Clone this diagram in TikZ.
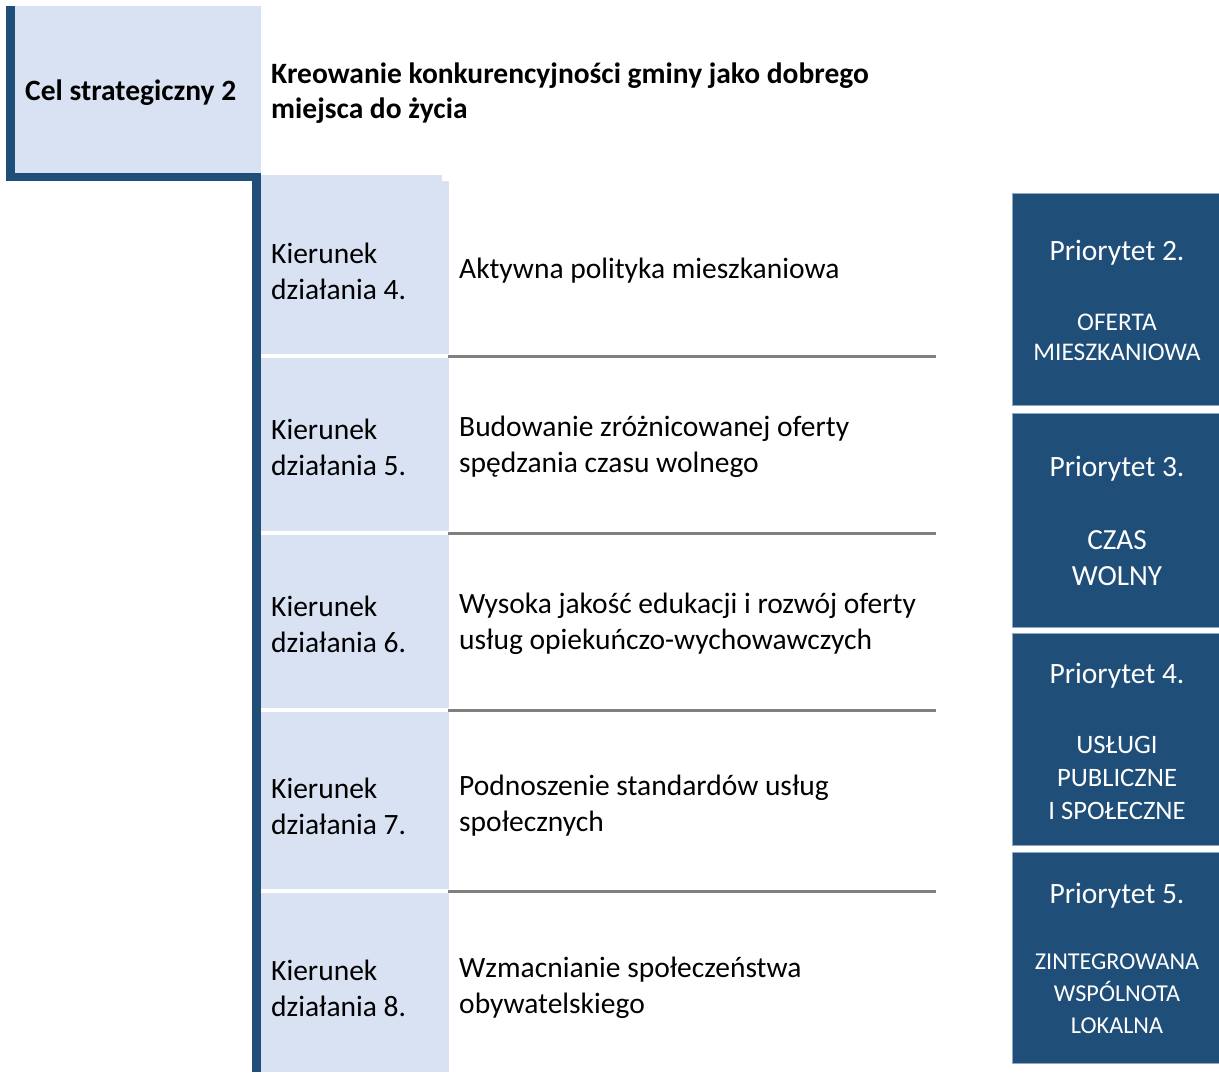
\documentclass[tikz,border=0pt]{standalone}
\usepackage{fontspec}
\setmainfont{Carlito}
\definecolor{darkblue}{HTML}{1F4E79}
\definecolor{lightblue}{HTML}{D9E2F3}
\definecolor{sepgray}{HTML}{808080}
\tikzset{
  lbl/.style={anchor=west, align=left, inner sep=0pt, text=black, font=\fontsize{29.5}{36}\selectfont},
  titlelbl/.style={anchor=west, align=left, inner sep=0pt, text=black, font=\fontsize{29.5}{35}\selectfont\bfseries},
  priobox/.style={fill=darkblue, draw=lightblue!60!darkblue, line width=0.8pt, minimum width=207pt, inner sep=0pt},
  priohead/.style={text=white, inner sep=0pt, font=\fontsize{29.5}{36}\selectfont},
  priotext/.style={text=white, inner sep=0pt, align=center},
  sepline/.style={draw=sepgray, line width=3pt},
  whiteline/.style={draw=white, line width=4pt}
}
\begin{document}
\begin{tikzpicture}[x=1pt,y=-1pt]
\useasboundingbox (0,0) rectangle (1219,1072);
% strategic goal box
\fill[lightblue] (15,6) rectangle (261,173);
\fill[darkblue] (6,6) rectangle (15,181);
\fill[darkblue] (6,173) rectangle (261,181);
\node[titlelbl] (cel) at (25,93) {Cel strategiczny 2};
\node[titlelbl] (celtxt) at (271,93) {Kreowanie konkurencyjności gminy jako dobrego\\miejsca do życia};
% column of directions
\fill[lightblue] (261,175) rectangle (442,181);
\fill[lightblue] (261,181) rectangle (449,1072);
\fill[darkblue] (252,173) rectangle (261,1072);
% row separators
\foreach \yy/\nm in {356/a,533/b,710/c,891/d}{
  \coordinate (wl\nm) at (261,\yy);
  \coordinate (wr\nm) at (449,\yy);
  \coordinate (gl\nm) at (448,\yy);
  \coordinate (gr\nm) at (936,\yy);
  \draw[whiteline] (wl\nm) -- (wr\nm);
  \draw[sepline] (gl\nm) -- (gr\nm);
}
% direction labels
\node[lbl] (k4) at (271,271) {Kierunek\\działania 4.};
\node[lbl] (k5) at (271,447) {Kierunek\\działania 5.};
\node[lbl] (k6) at (271,624) {Kierunek\\działania 6.};
\node[lbl] (k7) at (271,806) {Kierunek\\działania 7.};
\node[lbl] (k8) at (271,988) {Kierunek\\działania 8.};
\node[lbl] (t4) at (459,271) {Aktywna polityka mieszkaniowa};
\node[lbl] (t5) at (459,447) {Budowanie zróżnicowanej oferty\\spędzania czasu wolnego};
\node[lbl] (t6) at (459,624) {Wysoka jakość edukacji i rozwój oferty\\usług opiekuńczo-wychowawczych};
\node[lbl] (t7) at (459,806) {Podnoszenie standardów usług\\społecznych};
\node[lbl] (t8) at (459,988) {Wzmacnianie społeczeństwa\\obywatelskiego};
% priority boxes
\node[priobox, minimum height=212pt] (p2) at (1116,299) {};
\node[priobox, minimum height=214pt] (p3) at (1116,520) {};
\node[priobox, minimum height=212pt] (p4) at (1116,739) {};
\node[priobox, minimum height=211pt] (p5) at (1116,957.5) {};
\node[priohead] (p2h) at (1117,253) {Priorytet 2.};
\node[priohead] (p3h) at (1117,469) {Priorytet 3.};
\node[priohead] (p4h) at (1117,676) {Priorytet 4.};
\node[priohead] (p5h) at (1117,896) {Priorytet 5.};
\node[priotext, font=\fontsize{25.4}{30}\selectfont] (p2t) at (1117,337) {OFERTA\\MIESZKANIOWA};
\node[priotext, font=\fontsize{29.2}{36}\selectfont] (p3t) at (1117,558) {CZAS\\WOLNY};
\node[priotext, font=\fontsize{26.6}{33}\selectfont] (p4t) at (1117,778) {USŁUGI\\PUBLICZNE\\I SPOŁECZNE};
\node[priotext, font=\fontsize{24.2}{32}\selectfont] (p5t) at (1117,994) {ZINTEGROWANA\\WSPÓLNOTA\\LOKALNA};
\end{tikzpicture}
\end{document}
